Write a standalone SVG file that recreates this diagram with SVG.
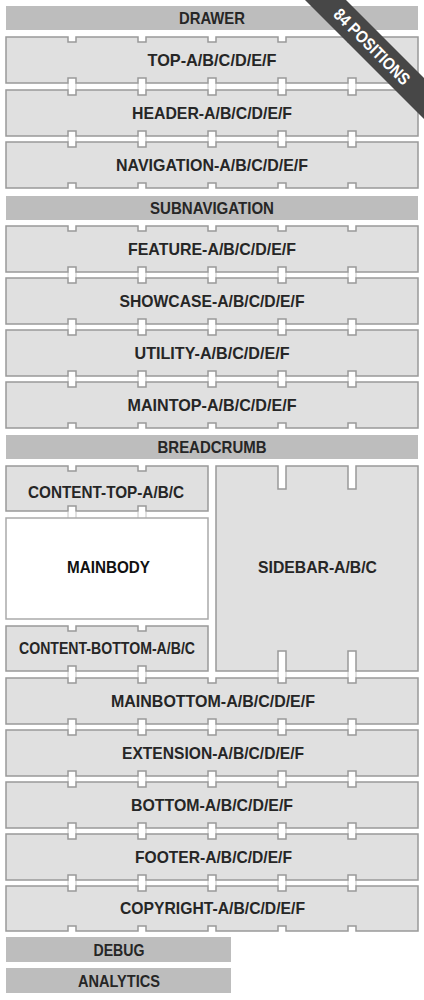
<svg xmlns="http://www.w3.org/2000/svg" width="424" height="1000" viewBox="0 0 424 1000">
<style>
.box{fill:#e0e0e0;stroke:#999;stroke-width:1.5}
.white{fill:#fff;stroke:#aaa;stroke-width:1.5}
.bar{fill:#bdbdbd}
.t{font-family:"Liberation Sans",Arial,sans-serif;font-weight:bold;font-size:16.5px;fill:#262626;text-anchor:middle}
.tube{stroke:#c4c4c4;stroke-width:1;fill:none}
</style>
<rect width="424" height="1000" fill="#fff"/>
<g id="connectors">
<path class="tube" d="M68,83V90M76,83V90M138,83V90M146,83V90M208,83V90M216,83V90M278,83V90M286,83V90M348,83V90M356,83V90"/>
<path class="tube" d="M68,136V142M76,136V142M138,136V142M146,136V142M208,136V142M216,136V142M278,136V142M286,136V142M348,136V142M356,136V142"/>
<path class="tube" d="M68,272V278M76,272V278M138,272V278M146,272V278M208,272V278M216,272V278M278,272V278M286,272V278M348,272V278M356,272V278"/>
<path class="tube" d="M68,324V330M76,324V330M138,324V330M146,324V330M208,324V330M216,324V330M278,324V330M286,324V330M348,324V330M356,324V330"/>
<path class="tube" d="M68,376V382M76,376V382M138,376V382M146,376V382M208,376V382M216,376V382M278,376V382M286,376V382M348,376V382M356,376V382"/>
<path class="tube" d="M68,512V518M76,512V518M138,512V518M146,512V518"/>
<path class="tube" d="M68,671V678M76,671V678M138,671V678M146,671V678M278,671V678M286,671V678M348,671V678M356,671V678"/>
<path class="tube" d="M68,724V730M76,724V730M138,724V730M146,724V730M208,724V730M216,724V730M278,724V730M286,724V730M348,724V730M356,724V730"/>
<path class="tube" d="M68,776V782M76,776V782M138,776V782M146,776V782M208,776V782M216,776V782M278,776V782M286,776V782M348,776V782M356,776V782"/>
<path class="tube" d="M68,828V834M76,828V834M138,828V834M146,828V834M208,828V834M216,828V834M278,828V834M286,828V834M348,828V834M356,828V834"/>
<path class="tube" d="M68,880V886M76,880V886M138,880V886M146,880V886M208,880V886M216,880V886M278,880V886M286,880V886M348,880V886M356,880V886"/>
</g>
<g id="drawer"><rect class="bar" x="6" y="6" width="412" height="24"/><text class="t" x="212" y="24" textLength="66" lengthAdjust="spacingAndGlyphs">DRAWER</text></g>
<g id="top"><path class="box" d="M6,37H68v5h8v-5H138v5h8v-5H208v5h8v-5H278v5h8v-5H348v5h8v-5H418V83H356v-5h-8v5H286v-5h-8v5H216v-5h-8v5H146v-5h-8v5H76v-5h-8v5H6Z"/><text class="t" x="212" y="65.5" textLength="129" lengthAdjust="spacingAndGlyphs">TOP-A/B/C/D/E/F</text></g>
<g id="header"><path class="box" d="M6,90H68v5h8v-5H138v5h8v-5H208v5h8v-5H278v5h8v-5H348v5h8v-5H418V136H356v-5h-8v5H286v-5h-8v5H216v-5h-8v5H146v-5h-8v5H76v-5h-8v5H6Z"/><text class="t" x="212" y="118.5" textLength="160" lengthAdjust="spacingAndGlyphs">HEADER-A/B/C/D/E/F</text></g>
<g id="navigation"><path class="box" d="M6,142H68v5h8v-5H138v5h8v-5H208v5h8v-5H278v5h8v-5H348v5h8v-5H418V188H356v-5h-8v5H286v-5h-8v5H216v-5h-8v5H146v-5h-8v5H76v-5h-8v5H6Z"/><text class="t" x="212" y="170.5" textLength="192" lengthAdjust="spacingAndGlyphs">NAVIGATION-A/B/C/D/E/F</text></g>
<g id="subnavigation"><rect class="bar" x="6" y="196" width="412" height="24"/><text class="t" x="212" y="214" textLength="124" lengthAdjust="spacingAndGlyphs">SUBNAVIGATION</text></g>
<g id="feature"><path class="box" d="M6,226H68v5h8v-5H138v5h8v-5H208v5h8v-5H278v5h8v-5H348v5h8v-5H418V272H356v-5h-8v5H286v-5h-8v5H216v-5h-8v5H146v-5h-8v5H76v-5h-8v5H6Z"/><text class="t" x="212" y="255" textLength="168" lengthAdjust="spacingAndGlyphs">FEATURE-A/B/C/D/E/F</text></g>
<g id="showcase"><path class="box" d="M6,278H68v5h8v-5H138v5h8v-5H208v5h8v-5H278v5h8v-5H348v5h8v-5H418V324H356v-5h-8v5H286v-5h-8v5H216v-5h-8v5H146v-5h-8v5H76v-5h-8v5H6Z"/><text class="t" x="212" y="306.5" textLength="185" lengthAdjust="spacingAndGlyphs">SHOWCASE-A/B/C/D/E/F</text></g>
<g id="utility"><path class="box" d="M6,330H68v5h8v-5H138v5h8v-5H208v5h8v-5H278v5h8v-5H348v5h8v-5H418V376H356v-5h-8v5H286v-5h-8v5H216v-5h-8v5H146v-5h-8v5H76v-5h-8v5H6Z"/><text class="t" x="212" y="358.5" textLength="155" lengthAdjust="spacingAndGlyphs">UTILITY-A/B/C/D/E/F</text></g>
<g id="maintop"><path class="box" d="M6,382H68v5h8v-5H138v5h8v-5H208v5h8v-5H278v5h8v-5H348v5h8v-5H418V428H356v-5h-8v5H286v-5h-8v5H216v-5h-8v5H146v-5h-8v5H76v-5h-8v5H6Z"/><text class="t" x="212" y="410.5" textLength="169" lengthAdjust="spacingAndGlyphs">MAINTOP-A/B/C/D/E/F</text></g>
<g id="breadcrumb"><rect class="bar" x="6" y="435" width="412" height="24"/><text class="t" x="212" y="453" textLength="109" lengthAdjust="spacingAndGlyphs">BREADCRUMB</text></g>
<g id="content-top"><path class="box" d="M6,466H68v5h8v-5H138v5h8v-5H208V511H146v-5h-8v5H76v-5h-8v5H6Z"/><text class="t" x="106" y="498" textLength="156" lengthAdjust="spacingAndGlyphs">CONTENT-TOP-A/B/C</text></g>
<g id="mainbody"><rect class="white" x="6" y="518" width="202" height="101"/><text class="t" x="108.5" y="573" textLength="83" lengthAdjust="spacingAndGlyphs" style="fill:#111">MAINBODY</text></g>
<g id="content-bottom"><path class="box" d="M6,626H68v5h8v-5H138v5h8v-5H208V671H146v-5h-8v5H76v-5h-8v5H6Z"/><text class="t" x="107" y="654" textLength="176" lengthAdjust="spacingAndGlyphs">CONTENT-BOTTOM-A/B/C</text></g>
<g id="sidebar"><path class="box" d="M216,466H278v23h8v-23H348v23h8v-23H418V671H356v-20h-8v20H286v-20h-8v20H216Z"/><text class="t" x="317.5" y="573" textLength="119" lengthAdjust="spacingAndGlyphs">SIDEBAR-A/B/C</text></g>
<g id="mainbottom"><path class="box" d="M6,678H68v5h8v-5H138v5h8v-5H208v5h8v-5H278v5h8v-5H348v5h8v-5H418V724H356v-5h-8v5H286v-5h-8v5H216v-5h-8v5H146v-5h-8v5H76v-5h-8v5H6Z"/><text class="t" x="213" y="707" textLength="204" lengthAdjust="spacingAndGlyphs">MAINBOTTOM-A/B/C/D/E/F</text></g>
<g id="extension"><path class="box" d="M6,730H68v5h8v-5H138v5h8v-5H208v5h8v-5H278v5h8v-5H348v5h8v-5H418V776H356v-5h-8v5H286v-5h-8v5H216v-5h-8v5H146v-5h-8v5H76v-5h-8v5H6Z"/><text class="t" x="213" y="759" textLength="182" lengthAdjust="spacingAndGlyphs">EXTENSION-A/B/C/D/E/F</text></g>
<g id="bottom"><path class="box" d="M6,782H68v5h8v-5H138v5h8v-5H208v5h8v-5H278v5h8v-5H348v5h8v-5H418V828H356v-5h-8v5H286v-5h-8v5H216v-5h-8v5H146v-5h-8v5H76v-5h-8v5H6Z"/><text class="t" x="212" y="811" textLength="162" lengthAdjust="spacingAndGlyphs">BOTTOM-A/B/C/D/E/F</text></g>
<g id="footer"><path class="box" d="M6,834H68v5h8v-5H138v5h8v-5H208v5h8v-5H278v5h8v-5H348v5h8v-5H418V880H356v-5h-8v5H286v-5h-8v5H216v-5h-8v5H146v-5h-8v5H76v-5h-8v5H6Z"/><text class="t" x="213.5" y="863" textLength="157" lengthAdjust="spacingAndGlyphs">FOOTER-A/B/C/D/E/F</text></g>
<g id="copyright"><path class="box" d="M6,886H68v5h8v-5H138v5h8v-5H208v5h8v-5H278v5h8v-5H348v5h8v-5H418V931H356v-5h-8v5H286v-5h-8v5H216v-5h-8v5H146v-5h-8v5H76v-5h-8v5H6Z"/><text class="t" x="212.5" y="914" textLength="185" lengthAdjust="spacingAndGlyphs">COPYRIGHT-A/B/C/D/E/F</text></g>
<g id="debug"><rect class="bar" x="6" y="937" width="225" height="25"/><text class="t" x="119" y="955.5" textLength="51" lengthAdjust="spacingAndGlyphs">DEBUG</text></g>
<g id="analytics"><rect class="bar" x="6" y="968" width="225" height="25"/><text class="t" x="119" y="986.5" textLength="82" lengthAdjust="spacingAndGlyphs">ANALYTICS</text></g>
<g id="banner"><polygon points="305,0 346,0 424,78 424,119" fill="#474747"/><text x="372" y="52.5" transform="rotate(45 372 46.5)" font-family="Liberation Sans,Arial,sans-serif" font-weight="bold" font-size="17" fill="#fff" text-anchor="middle" textLength="100" lengthAdjust="spacingAndGlyphs">84 POSITIONS</text></g>
</svg>
